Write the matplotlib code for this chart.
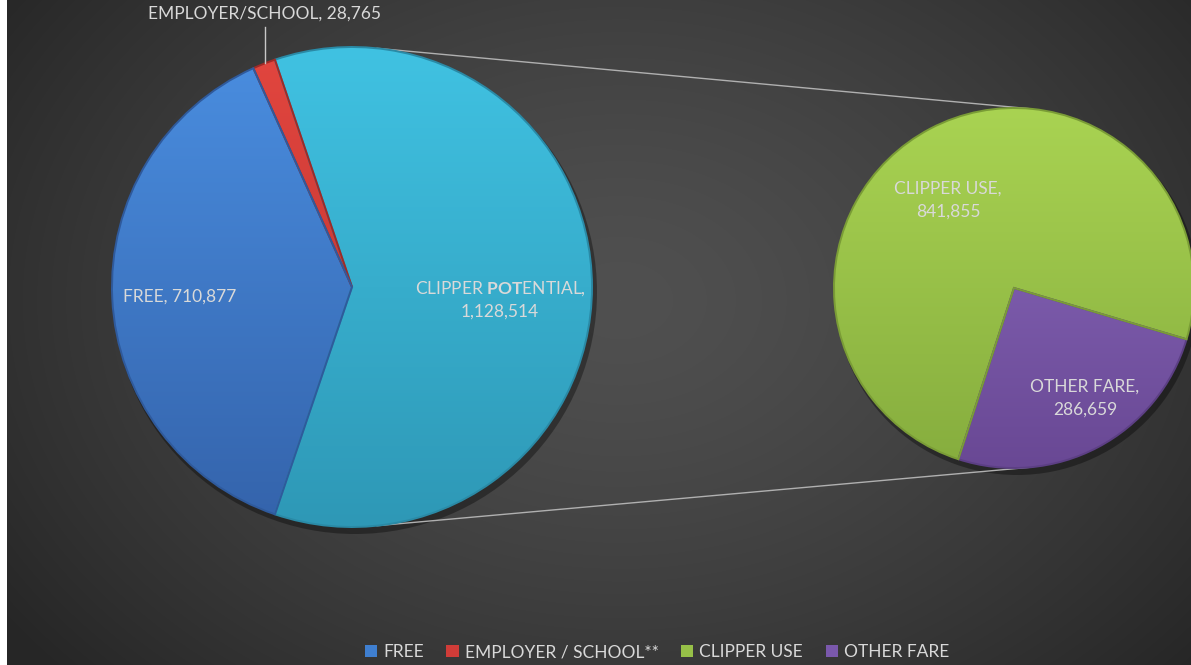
import numpy as np
import matplotlib
matplotlib.use("Agg")
import matplotlib.pyplot as plt
from matplotlib.patches import Patch, Circle
from matplotlib.colors import LinearSegmentedColormap

# ---------------- data ----------------
main_labels = ["CLIPPER POTENTIAL", "EMPLOYER/SCHOOL", "FREE"]
main_values = [1128514, 28765, 710877]
sub_labels = ["OTHER FARE", "CLIPPER USE"]
sub_values = [286659, 841855]
legend_labels = ["FREE", "EMPLOYER / SCHOOL**", "CLIPPER USE", "OTHER FARE"]

# ---------------- style ----------------
FONT = "Lato"
plt.rcParams["mathtext.fontset"] = "custom"
plt.rcParams["mathtext.rm"] = "Lato"
plt.rcParams["mathtext.bf"] = "Lato:bold"
TXT = "#d9d9d9"
FS = 12.5
main_top = ["#40c2e2", "#e2463f", "#4a8ee0"]
main_bot = ["#2e98b6", "#b8302c", "#3463ab"]
main_edge = ["#2a8aa6", "#a02a26", "#2f5a9c"]
sub_top = ["#8c6cc0", "#a9d352"]
sub_bot = ["#694894", "#86ad3e"]
sub_edge = ["#5c3f84", "#7a9c36"]
leg_colors = ["#3f7fd0", "#d03c38", "#97c048", "#7a58ac"]

W, H = 1191, 665
fig = plt.figure(figsize=(W / 100, H / 100), dpi=100)
fig.patch.set_facecolor("white")

# background radial gradient
bg = fig.add_axes([7 / W, 0, 1 - 7 / W, 1])
yy, xx = np.mgrid[0:H, 7:W]
d = np.sqrt(((xx - 620) / 760) ** 2 + ((yy - 300) / 560) ** 2)
v = 0x50 / 255 - (0x50 - 0x26) / 255 * np.clip(d, 0, 1) ** 1.4
bg.imshow(np.dstack([v, v, v]), extent=[7, W, H, 0], aspect="auto")
bg.axis("off")

ax = fig.add_axes([0, 0, 1, 1])
ax.patch.set_alpha(0)


def shaded_pie(values, center, radius, start, tops, bots, edges):
    wedges, _ = ax.pie(values, center=center, radius=radius, startangle=start,
                       counterclock=True, wedgeprops=dict(linewidth=1.4))
    cx, cy = center
    sh = Circle((cx + 3, cy - 5), radius + 2, color="black", alpha=0.35, zorder=0.5, lw=0)
    ax.add_patch(sh)
    for w, t, b, e in zip(wedges, tops, bots, edges):
        cmap = LinearSegmentedColormap.from_list("g", [b, t])
        grad = np.linspace(0, 1, 256).reshape(-1, 1)
        im = ax.imshow(grad, extent=[cx - radius, cx + radius, cy - radius, cy + radius],
                       origin="lower", cmap=cmap, aspect="auto", zorder=1)
        im.set_clip_path(w)
        w.set_facecolor("none")
        w.set_edgecolor(e)
        w.set_zorder(2)
    return wedges


tot = sum(main_values)
c1 = (352, H - 287)
r1 = 240
start1 = -main_values[0] / tot * 180
shaded_pie(main_values, c1, r1, start1, main_top, main_bot, main_edge)

c2 = (1014, H - 288)
r2 = 180
start2 = -108
shaded_pie(sub_values, c2, r2, start2, sub_top, sub_bot, sub_edge)

# connector lines
for a1, a2 in [(84, 85), (-84, -85)]:
    p1 = (c1[0] + r1 * np.cos(np.radians(a1)), c1[1] + r1 * np.sin(np.radians(a1)))
    p2 = (c2[0] + r2 * np.cos(np.radians(a2)), c2[1] + r2 * np.sin(np.radians(a2)))
    ax.plot([p1[0], p2[0]], [p1[1], p2[1]], color="#b0b0b0", lw=1.0, zorder=0.8)

fmt = lambda n: f"{n:,}"
tkw = dict(color=TXT, fontsize=FS, family=FONT, ha="center", va="center", zorder=5)

# labels
ax.text(180, H - 297, f"{main_labels[2]}, {fmt(main_values[2])}", **tkw)
ax.text(264, H - 14, f"{main_labels[1]}, {fmt(main_values[1])}", **tkw)
ax.plot([265, 265], [H - 27, H - 63], color="#c8c8c8", lw=1.0, zorder=5)

ax.text(500, H - 289, r"CLIPPER $\mathbf{POT}$ENTIAL,", **tkw)
ax.text(500, H - 312, fmt(main_values[0]), **tkw)

ax.text(948, H - 200, f"{sub_labels[1]},\n{fmt(sub_values[1])}", linespacing=1.5, **tkw)
ax.text(1085, H - 398, f"{sub_labels[0]},\n{fmt(sub_values[0])}", linespacing=1.5, **tkw)

ax.set_xlim(0, W)
ax.set_ylim(0, H)
ax.axis("off")

handles = [Patch(facecolor=c, edgecolor="none") for c in leg_colors]
fig.legend(handles, legend_labels, loc="center", bbox_to_anchor=(657 / W, 1 - 652 / H),
           ncol=4, frameon=False, handlelength=0.7, handleheight=0.7, handletextpad=0.35,
           columnspacing=1.3, labelcolor=TXT, prop=dict(family=FONT, size=FS))

fig.savefig("out.png", dpi=100, facecolor=fig.get_facecolor())
